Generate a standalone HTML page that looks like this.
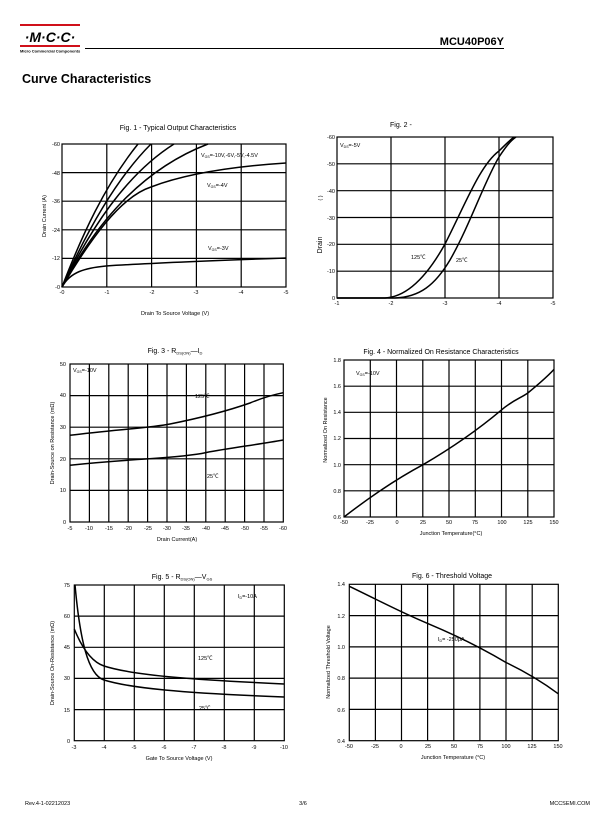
<!DOCTYPE html>
<html><head><meta charset="utf-8"><style>
body{margin:0;background:#fff;}
svg{display:block;font-family:"Liberation Sans",Arial,"Noto Sans CJK SC",sans-serif;}
.g{stroke:#000;stroke-width:1.2;fill:none}
.c{stroke:#000;stroke-width:1.5;fill:none}
.t{font-size:5.5px}
.ttl{font-size:7px}
</style></head><body>
<svg width="612" height="825" viewBox="0 0 612 825">
<!-- header -->
<rect x="20" y="24" width="60" height="2" fill="#d0101a"/>
<rect x="20" y="45" width="60" height="2" fill="#d0101a"/>
<text x="50" y="42" font-size="14" font-weight="bold" font-style="italic" text-anchor="middle">·M·C·C·</text>
<text x="20" y="52.5" font-size="4" font-weight="bold">Micro Commercial Components</text>
<line x1="85" y1="48.5" x2="504" y2="48.5" stroke="#000" stroke-width="1"/>
<text x="504" y="45" font-size="11" font-weight="bold" text-anchor="end">MCU40P06Y</text>
<text x="22" y="83" font-size="12.5" font-weight="bold">Curve Characteristics</text>

<!-- Fig1 -->
<text x="178" y="130" class="ttl" text-anchor="middle">Fig. 1 - Typical Output Characteristics</text>
<g class="g"><rect x="62" y="144" width="224" height="143"/>
<path d="M106.8,144V287M151.6,144V287M196.4,144V287M241.2,144V287M62,172.6H286M62,201.2H286M62,229.8H286M62,258.4H286"/></g>
<g class="c">
<path d="M62,287 C70,272 85,268 106,266 C150,263 230,260 286,258"/>
<path d="M62,287 C90,240 120,197 151,187 C190,172 240,166 286,163"/>
<path d="M62,287 C95,225 140,170 208,144"/>
<path d="M62,287 C90,230 125,175 174,144"/>
<path d="M62,287 C85,235 115,180 151,144"/>
<path d="M62,287 C82,235 105,185 138,144"/>
</g>
<g class="t" text-anchor="end">
<text x="60" y="146">-60</text><text x="60" y="175">-48</text><text x="60" y="203">-36</text><text x="60" y="232">-24</text><text x="60" y="260">-12</text><text x="60" y="289">-0</text></g>
<g class="t" text-anchor="middle">
<text x="62" y="294">-0</text><text x="107" y="294">-1</text><text x="152" y="294">-2</text><text x="196" y="294">-3</text><text x="241" y="294">-4</text><text x="286" y="294">-5</text></g>
<text x="175" y="315" class="t" text-anchor="middle">Drain To Source Voltage (V)</text>
<text transform="translate(46,216) rotate(-90)" class="t" text-anchor="middle">Drain Current (A)</text>
<text x="201" y="157" class="t">V<tspan font-size="3.5" dy="1">GS</tspan><tspan dy="-1">=-10V,-6V,-5V,-4.5V</tspan></text>
<text x="207" y="187" class="t">V<tspan font-size="3.5" dy="1">GS</tspan><tspan dy="-1">=-4V</tspan></text>
<text x="208" y="250" class="t">V<tspan font-size="3.5" dy="1">GS</tspan><tspan dy="-1">=-3V</tspan></text>

<!-- Fig2 -->
<text x="390" y="127" class="ttl">Fig. 2 -</text>
<g class="g"><rect x="337" y="137" width="216" height="161"/>
<path d="M391,137V298M445,137V298M499,137V298M337,163.8H553M337,190.7H553M337,217.5H553M337,244.3H553M337,271.2H553"/></g>
<g class="c">
<path d="M337,298 L385,298 C405,297 425,280 445,244 C465,205 480,165 499,151 C505,145 510,140 514,137"/>
<path d="M337,298 L395,298 C420,297 435,285 450,260 C470,225 485,180 499,157 C505,148 510,141 516,137"/>
</g>
<g class="t" text-anchor="end">
<text x="335" y="139">-60</text><text x="335" y="166">-50</text><text x="335" y="193">-40</text><text x="335" y="220">-30</text><text x="335" y="246">-20</text><text x="335" y="273">-10</text><text x="335" y="300">0</text></g>
<g class="t" text-anchor="middle">
<text x="337" y="305">-1</text><text x="391" y="305">-2</text><text x="445" y="305">-3</text><text x="499" y="305">-4</text><text x="553" y="305">-5</text></g>
<text transform="translate(322,245) rotate(-90)" font-size="7" text-anchor="middle">Drain</text>
<text transform="translate(322,198) rotate(-90)" class="t" text-anchor="middle">(   )</text>
<text x="340" y="147" class="t">V<tspan font-size="3.5" dy="1">DS</tspan><tspan dy="-1">=-5V</tspan></text>
<text x="411" y="259" class="t">125℃</text>
<text x="456" y="262" class="t">25℃</text>

<!-- Fig3 -->
<text x="175" y="353" class="ttl" text-anchor="middle">Fig. 3 - R<tspan font-size="4" dy="1.5">DS(ON)</tspan><tspan dy="-1.5">—I</tspan><tspan font-size="4" dy="1.5">D</tspan></text>
<g class="g"><rect x="70" y="364" width="213.3" height="158"/>
<path d="M89.4,364V522M108.8,364V522M128.2,364V522M147.6,364V522M167,364V522M186.4,364V522M205.8,364V522M225.2,364V522M244.6,364V522M264,364V522M70,395.6H283.3M70,427.2H283.3M70,458.8H283.3M70,490.4H283.3"/></g>
<g class="c">
<path d="M70,435.3 C110,430 150,428 170,424 C200,418 230,410 250,403 C262,398 272,395 283.3,392.7"/>
<path d="M70,465.2 C100,462 130,460 147.6,458.9 C175,457 195,455 205.8,452.6 C230,448 255,445 283.3,440"/>
</g>
<g class="t" text-anchor="end">
<text x="66" y="366">50</text><text x="66" y="397">40</text><text x="66" y="429">30</text><text x="66" y="461">20</text><text x="66" y="492">10</text><text x="66" y="524">0</text></g>
<g class="t" text-anchor="middle">
<text x="70" y="530">-5</text><text x="89" y="530">-10</text><text x="109" y="530">-15</text><text x="128" y="530">-20</text><text x="148" y="530">-25</text><text x="167" y="530">-30</text><text x="186" y="530">-35</text><text x="206" y="530">-40</text><text x="225" y="530">-45</text><text x="245" y="530">-50</text><text x="264" y="530">-55</text><text x="283" y="530">-60</text></g>
<text x="177" y="541" class="t" text-anchor="middle">Drain Current(A)</text>
<text transform="translate(54,443) rotate(-90)" class="t" text-anchor="middle">Drain-Source on Resistance (mΩ)</text>
<text x="73" y="372" class="t">V<tspan font-size="3.5" dy="1">GS</tspan><tspan dy="-1">=-10V</tspan></text>
<text x="195" y="398" class="t">125℃</text>
<text x="207" y="478" class="t">25℃</text>

<!-- Fig4 -->
<text x="441" y="354" class="ttl" text-anchor="middle">Fig. 4 - Normalized On Resistance Characteristics</text>
<g class="g"><rect x="344" y="360" width="210" height="157"/>
<path d="M370.3,360V517M396.5,360V517M422.8,360V517M449,360V517M475.3,360V517M501.5,360V517M527.8,360V517M344,386.2H554M344,412.3H554M344,438.5H554M344,464.7H554M344,490.8H554"/></g>
<path class="c" d="M344,517 C375,493 400,477 422.8,464.8 C455,446 480,428 501.5,409.9 C513,400 521,398 527.8,393 C540,383 548,376 554,369.4"/>
<g class="t" text-anchor="end">
<text x="341" y="362">1.8</text><text x="341" y="388">1.6</text><text x="341" y="414">1.4</text><text x="341" y="440">1.2</text><text x="341" y="467">1.0</text><text x="341" y="493">0.8</text><text x="341" y="519">0.6</text></g>
<g class="t" text-anchor="middle">
<text x="344" y="524">-50</text><text x="370" y="524">-25</text><text x="397" y="524">0</text><text x="423" y="524">25</text><text x="449" y="524">50</text><text x="475" y="524">75</text><text x="502" y="524">100</text><text x="528" y="524">125</text><text x="554" y="524">150</text></g>
<text x="451" y="535" class="t" text-anchor="middle">Junction Temperature(°C)</text>
<text transform="translate(327,430) rotate(-90)" class="t" text-anchor="middle">Normalized On Resistance</text>
<text x="356" y="375" class="t">V<tspan font-size="3.5" dy="1">GS</tspan><tspan dy="-1">=-10V</tspan></text>

<!-- Fig5 -->
<text x="182" y="579" class="ttl" text-anchor="middle">Fig. 5 - R<tspan font-size="4" dy="1.5">DS(ON)</tspan><tspan dy="-1.5">—V</tspan><tspan font-size="4" dy="1.5">GS</tspan></text>
<g class="g"><rect x="74.3" y="585" width="210" height="155.7"/>
<path d="M104.3,585V740.7M134.3,585V740.7M164.3,585V740.7M194.3,585V740.7M224.3,585V740.7M254.3,585V740.7M74.3,616.1H284.3M74.3,647.3H284.3M74.3,678.4H284.3M74.3,709.6H284.3"/></g>
<g class="c">
<path d="M75,585 C80,640 88,675 104,680 C130,688 180,693 284,697"/>
<path d="M74.3,629 C82,648 92,662 104,666 C135,676 200,680 284,684"/>
</g>
<g class="t" text-anchor="end">
<text x="70" y="587">75</text><text x="70" y="618">60</text><text x="70" y="649">45</text><text x="70" y="680">30</text><text x="70" y="712">15</text><text x="70" y="743">0</text></g>
<g class="t" text-anchor="middle">
<text x="74" y="749">-3</text><text x="104" y="749">-4</text><text x="134" y="749">-5</text><text x="164" y="749">-6</text><text x="194" y="749">-7</text><text x="224" y="749">-8</text><text x="254" y="749">-9</text><text x="284" y="749">-10</text></g>
<text x="179" y="760" class="t" text-anchor="middle">Gate To Source Voltage (V)</text>
<text transform="translate(54,663) rotate(-90)" class="t" text-anchor="middle">Drain-Source On-Resistance (mΩ)</text>
<text x="238" y="598" class="t">I<tspan font-size="3.5" dy="1">D</tspan><tspan dy="-1">=-10A</tspan></text>
<text x="198" y="660" class="t">125℃</text>
<text x="199" y="710" class="t">25℃</text>

<!-- Fig6 -->
<text x="452" y="578" class="ttl" text-anchor="middle">Fig. 6 - Threshold Voltage</text>
<g class="g"><rect x="349.3" y="584.3" width="209" height="156.4"/>
<path d="M375.4,584.3V740.7M401.5,584.3V740.7M427.6,584.3V740.7M453.8,584.3V740.7M479.9,584.3V740.7M506,584.3V740.7M532.2,584.3V740.7M349.3,615.6H558.3M349.3,646.9H558.3M349.3,678.1H558.3M349.3,709.4H558.3"/></g>
<path class="c" d="M349.3,586.3 C380,601 400,612 427.6,623.4 C460,637 485,650 506,662.5 C530,674 545,684 558.3,693.8"/>
<g class="t" text-anchor="end">
<text x="345" y="586">1.4</text><text x="345" y="618">1.2</text><text x="345" y="649">1.0</text><text x="345" y="680">0.8</text><text x="345" y="712">0.6</text><text x="345" y="743">0.4</text></g>
<g class="t" text-anchor="middle">
<text x="349" y="748">-50</text><text x="375" y="748">-25</text><text x="401" y="748">0</text><text x="428" y="748">25</text><text x="454" y="748">50</text><text x="480" y="748">75</text><text x="506" y="748">100</text><text x="532" y="748">125</text><text x="558" y="748">150</text></g>
<text x="453" y="759" class="t" text-anchor="middle">Junction Temperature  (°C)</text>
<text transform="translate(330,662) rotate(-90)" class="t" text-anchor="middle">Normalized Threshold Voltage</text>
<text x="438" y="641" class="t">I<tspan font-size="3.5" dy="1">D</tspan><tspan dy="-1">= -250μA</tspan></text>

<!-- footer -->
<text x="25" y="805" font-size="5.5">Rev.4-1-02212023</text>
<text x="303" y="805" font-size="5.5" text-anchor="middle">3/6</text>
<text x="590" y="805" font-size="5.5" text-anchor="end">MCCSEMI.COM</text>
</svg>
</body></html>
